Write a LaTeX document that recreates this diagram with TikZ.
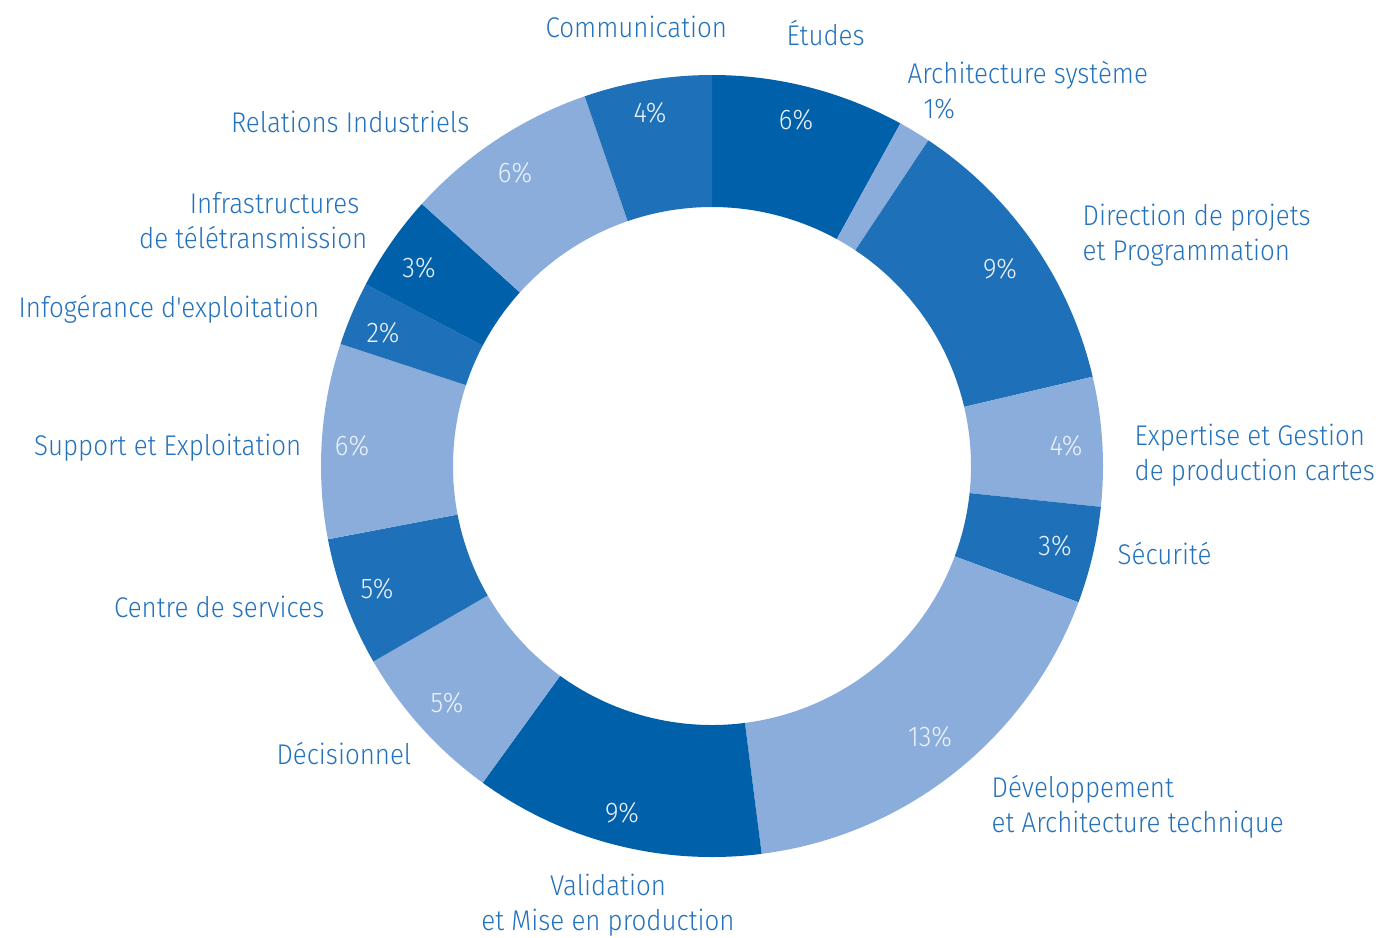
\documentclass[tikz,border=0pt]{standalone}
\usepackage{fontspec}
\setmainfont{Fira Sans Light}[FakeStretch=0.91, Ligatures=TeXOff]
\usepackage{xcolor}
\definecolor{segDark}{RGB}{0,96,170}
\definecolor{segMid}{RGB}{30,112,184}
\definecolor{segLight}{RGB}{139,173,219}
\definecolor{labelBlue}{RGB}{36,114,188}
\definecolor{pctWhite}{RGB}{236,242,250}

\begin{document}
\begin{tikzpicture}
\tikzstyle{darkSeg} = [fill=segDark]
\tikzstyle{midSeg} = [fill=segMid]
\tikzstyle{lightSeg} = [fill=segLight]
\tikzstyle{pctStyle} = [text=pctWhite, inner sep=0pt, font=\fontsize{8.1}{9.96}\selectfont]
\tikzstyle{labelStyle} = [text=labelBlue, inner sep=0pt, font=\fontsize{8.1}{9.96}\selectfont]
\useasboundingbox (-7.12,-4.71) rectangle (6.69,4.66);
% ring segments, clockwise from the top
\fill[darkSeg] (90:3.91) arc[start angle=90, end angle=61.2, radius=3.91] -- (61.2:2.59) arc[start angle=61.2, end angle=90, radius=2.59] -- cycle;
\fill[lightSeg] (61.2:3.91) arc[start angle=61.2, end angle=56.4, radius=3.91] -- (56.4:2.59) arc[start angle=56.4, end angle=61.2, radius=2.59] -- cycle;
\fill[midSeg] (56.4:3.91) arc[start angle=56.4, end angle=13.2, radius=3.91] -- (13.2:2.59) arc[start angle=13.2, end angle=56.4, radius=2.59] -- cycle;
\fill[lightSeg] (13.2:3.91) arc[start angle=13.2, end angle=-6, radius=3.91] -- (-6:2.59) arc[start angle=-6, end angle=13.2, radius=2.59] -- cycle;
\fill[midSeg] (-6:3.91) arc[start angle=-6, end angle=-20.4, radius=3.91] -- (-20.4:2.59) arc[start angle=-20.4, end angle=-6, radius=2.59] -- cycle;
\fill[lightSeg] (-20.4:3.91) arc[start angle=-20.4, end angle=-82.7, radius=3.91] -- (-82.7:2.59) arc[start angle=-82.7, end angle=-20.4, radius=2.59] -- cycle;
\fill[darkSeg] (-82.7:3.91) arc[start angle=-82.7, end angle=-125.9, radius=3.91] -- (-125.9:2.59) arc[start angle=-125.9, end angle=-82.7, radius=2.59] -- cycle;
\fill[lightSeg] (-125.9:3.91) arc[start angle=-125.9, end angle=-150, radius=3.91] -- (-150:2.59) arc[start angle=-150, end angle=-125.9, radius=2.59] -- cycle;
\fill[midSeg] (-150:3.91) arc[start angle=-150, end angle=-169.2, radius=3.91] -- (-169.2:2.59) arc[start angle=-169.2, end angle=-150, radius=2.59] -- cycle;
\fill[lightSeg] (-169.2:3.91) arc[start angle=-169.2, end angle=-198.2, radius=3.91] -- (-198.2:2.59) arc[start angle=-198.2, end angle=-169.2, radius=2.59] -- cycle;
\fill[midSeg] (-198.2:3.91) arc[start angle=-198.2, end angle=-207.7, radius=3.91] -- (-207.7:2.59) arc[start angle=-207.7, end angle=-198.2, radius=2.59] -- cycle;
\fill[darkSeg] (-207.7:3.91) arc[start angle=-207.7, end angle=-222.1, radius=3.91] -- (-222.1:2.59) arc[start angle=-222.1, end angle=-207.7, radius=2.59] -- cycle;
\fill[lightSeg] (-222.1:3.91) arc[start angle=-222.1, end angle=-251, radius=3.91] -- (-251:2.59) arc[start angle=-251, end angle=-222.1, radius=2.59] -- cycle;
\fill[midSeg] (-251:3.91) arc[start angle=-251, end angle=-270, radius=3.91] -- (-270:2.59) arc[start angle=-270, end angle=-251, radius=2.59] -- cycle;
% percentages
\node[pctStyle] (pEtudes) at (0.84,3.46) {6\%};
\node[pctStyle] (pDirection) at (2.88,1.97) {9\%};
\node[pctStyle] (pExpertise) at (3.54,0.20) {4\%};
\node[pctStyle] (pSecurite) at (3.43,-0.80) {3\%};
\node[pctStyle] (pDevel) at (2.18,-2.71) {13\%};
\node[pctStyle] (pValidation) at (-0.90,-3.47) {9\%};
\node[pctStyle] (pDecision) at (-2.65,-2.37) {5\%};
\node[pctStyle] (pCentre) at (-3.35,-1.23) {5\%};
\node[pctStyle] (pSupport) at (-3.60,0.20) {6\%};
\node[pctStyle] (pInfog) at (-3.29,1.33) {2\%};
\node[pctStyle] (pInfra) at (-2.93,1.98) {3\%};
\node[pctStyle] (pRelations) at (-1.97,2.93) {6\%};
\node[pctStyle] (pComm) at (-0.62,3.53) {4\%};
% labels (two-line ones sit on the baseline of their last line)
\node[labelStyle, anchor=base west] (lComm) at (-1.67,4.29) {Communication};
\node[labelStyle, anchor=base west] (lEtudes) at (0.74,4.21) {Études};
\node[labelStyle, anchor=base west, align=left] (lArchi) at (1.95,3.48) {Architecture système\\\hspace*{0.16cm}1\%};
\node[labelStyle, anchor=base west, align=left] (lDirection) at (3.70,2.06) {Direction de projets\\et Programmation};
\node[labelStyle, anchor=base west, align=left] (lExpertise) at (4.22,-0.14) {Expertise et Gestion\\de production cartes};
\node[labelStyle, anchor=base west] (lSecurite) at (4.05,-0.98) {Sécurité};
\node[labelStyle, anchor=base west, align=left] (lDevel) at (2.79,-3.66) {Développement\\et Architecture technique};
\node[labelStyle, anchor=base, align=center] (lValidation) at (-1.04,-4.64) {Validation\\et Mise en production};
\node[labelStyle, anchor=base east] (lDecision) at (-3.00,-2.98) {Décisionnel};
\node[labelStyle, anchor=base east] (lCentre) at (-3.87,-1.51) {Centre de services};
\node[labelStyle, anchor=base east] (lSupport) at (-4.10,0.11) {Support et Exploitation};
\node[labelStyle, anchor=base east] (lInfog) at (-3.92,1.49) {Infogérance d'exploitation};
\node[labelStyle, anchor=base east, align=right] (lInfra) at (-3.44,2.18) {Infrastructures\hspace*{0.08cm}\\de télétransmission};
\node[labelStyle, anchor=base east] (lRelations) at (-2.42,3.34) {Relations Industriels};
\end{tikzpicture}
\end{document}
